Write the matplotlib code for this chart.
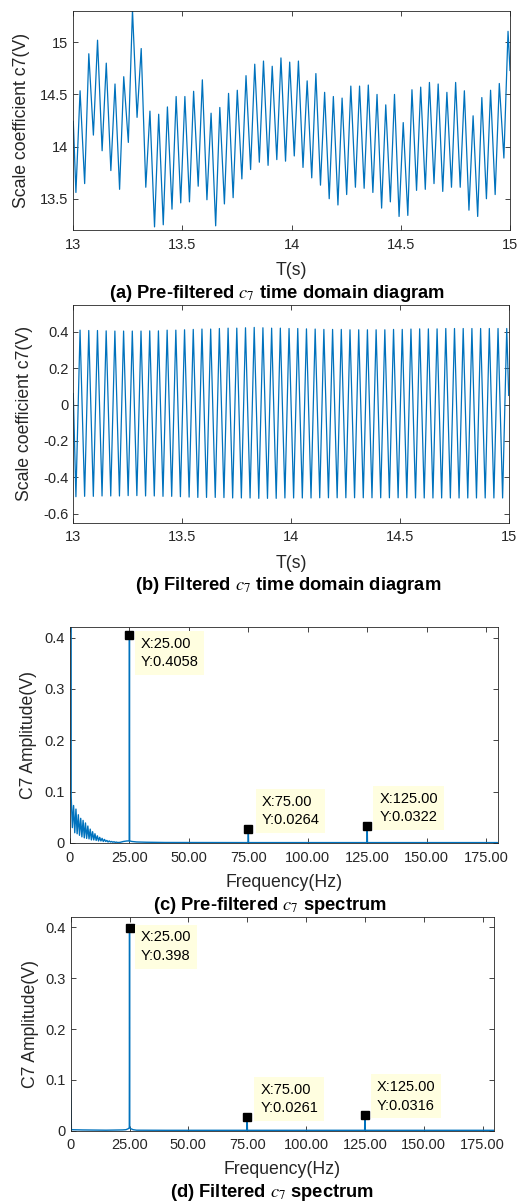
import numpy as np
import matplotlib.pyplot as plt

plt.rcParams['font.family'] = ['Liberation Sans', 'DejaVu Sans']
plt.rcParams['mathtext.fontset'] = 'stix'
plt.rcParams['axes.unicode_minus'] = False

W, H = 527, 1202
BLUE = '#0072BD'
INK = '#262626'
TIP_BG = '#FFFEE0'

# ---- (a) pre-filtered c7: one trough + one peak per 25 Hz cycle
a_troughs = [13.56, 13.645, 14.11, 13.96, 13.77, 13.59, 14.04, 14.28, 13.61, 13.23,
             13.25, 13.40, 13.46, 13.47, 13.62, 13.49, 13.24, 13.45, 13.51, 13.69,
             13.78, 13.85, 13.82, 13.875, 13.86, 13.91, 13.80, 13.70, 13.63, 13.50,
             13.44, 13.54, 13.61, 13.60, 13.56, 13.41, 13.47, 13.33, 13.34, 13.58,
             13.59, 13.645, 13.57, 13.61, 13.61, 13.39, 13.33, 13.50, 13.54, 13.89]
a_peaks = [14.535, 14.89, 15.02, 14.80, 14.60, 14.67, 15.31, 14.94, 14.34, 14.31,
           14.38, 14.48, 14.48, 14.53, 14.64, 14.32, 14.375, 14.51, 14.54, 14.68,
           14.79, 14.82, 14.77, 14.85, 14.81, 14.82, 14.63, 14.70, 14.52, 14.48,
           14.465, 14.58, 14.58, 14.59, 14.50, 14.40, 14.50, 14.23, 14.545, 14.57,
           14.615, 14.60, 14.52, 14.615, 14.535, 14.295, 14.47, 14.54, 14.605, 15.105]
a_start, a_end = 14.24, 14.73

# ---- (b) filtered c7
b_troughs = [-0.507, -0.505, -0.505, -0.503, -0.503, -0.503, -0.501, -0.501, -0.503, -0.503,
             -0.505, -0.505, -0.507, -0.509, -0.511, -0.511, -0.511, -0.512, -0.514, -0.514,
             -0.514, -0.516, -0.516, -0.516, -0.514, -0.514, -0.514, -0.514, -0.513, -0.513,
             -0.513, -0.513, -0.513, -0.513, -0.513, -0.513, -0.513, -0.513, -0.513, -0.514,
             -0.514, -0.514, -0.514, -0.514, -0.514, -0.514, -0.514, -0.514, -0.514, -0.514]
b_peaks = [0.409, 0.407, 0.407, 0.405, 0.404, 0.404, 0.404, 0.404, 0.405, 0.405,
           0.409, 0.409, 0.411, 0.413, 0.415, 0.415, 0.418, 0.420, 0.420, 0.422,
           0.424, 0.422, 0.420, 0.420, 0.418, 0.418, 0.416, 0.415, 0.413, 0.413,
           0.413, 0.411, 0.411, 0.411, 0.411, 0.411, 0.413, 0.413, 0.415, 0.416,
           0.416, 0.416, 0.418, 0.418, 0.418, 0.418, 0.418, 0.418, 0.418, 0.418]
b_start, b_end = 0.06, 0.05

t_first_trough = 13.012   # s
t_rise = 0.019            # trough -> peak
cycle = 0.04              # 25 Hz

# ---- (c) pre-filtered spectrum
c_dc = 14.05
c_low = [0.090, 0.030, 0.073, 0.020, 0.066, 0.018, 0.055, 0.015, 0.048, 0.012,
         0.044, 0.010, 0.039, 0.009, 0.033, 0.008, 0.027, 0.006, 0.022, 0.006,
         0.018, 0.005, 0.014, 0.004, 0.011, 0.004, 0.009, 0.003, 0.007, 0.003,
         0.005, 0.002, 0.004, 0.002, 0.003, 0.0015, 0.0025, 0.0012, 0.0018, 0.001]  # 0.5 Hz bins
c_tail_f = [21, 22.5, 24, 24.9, 25, 25.1, 26, 28, 32, 40, 74.9, 75, 75.1, 124.9, 125, 125.1, 180]
c_tail_a = [0.0012, 0.003, 0.004, 0.004, 0.4058, 0.004, 0.003, 0.002, 0.0015, 0.001,
            0.0008, 0.0264, 0.0008, 0.0008, 0.0322, 0.0008, 0.0008]
c_tip_f = [25, 75, 125]
c_tip_a = [0.4058, 0.0264, 0.0322]

# ---- (d) filtered spectrum
d_f = [0, 0.3, 5, 15, 22, 23.5, 24.5, 24.9, 25, 25.1, 25.5, 26.5, 28, 40,
       74.9, 75, 75.1, 124.9, 125, 125.1, 180]
d_a = [0.095, 0.002, 0.0015, 0.001, 0.0015, 0.002, 0.004, 0.006, 0.398, 0.006, 0.004,
       0.002, 0.001, 0.0008, 0.0008, 0.0261, 0.0008, 0.0008, 0.0316, 0.0008, 0.0008]
d_tip_f = [25, 75, 125]
d_tip_a = [0.398, 0.0261, 0.0316]

freq_ticks = [0, 25, 50, 75, 100, 125, 150, 175]
freq_labels = ['0', '25.00', '50.00', '75.00', '100.00', '125.00', '150.00', '175.00']


def zigzag(troughs, peaks, start, end):
    t, v = [13.0], [start]
    for k, (lo, hi) in enumerate(zip(troughs, peaks)):
        t0 = t_first_trough + k * cycle
        t += [t0, t0 + t_rise]
        v += [lo, hi]
    t.append(15.0)
    v.append(end)
    return t, v


fig = plt.figure(figsize=(W / 100, H / 100), dpi=100)


def make_axes(box, xlabel, ylabel, xlab_y, ylab_x):
    l, t, r, b = box
    ax = fig.add_axes([l / W, 1 - b / H, (r - l) / W, (b - t) / H])
    for s in ax.spines.values():
        s.set_color(INK)
        s.set_linewidth(0.6)
    ax.tick_params(direction='in', top=True, right=True, length=3.4, width=0.6,
                   colors=INK, labelsize=10.5, pad=3.6)
    ax.tick_params(axis='x', pad=5.5)
    ax.set_xlabel(xlabel, fontsize=12.7, color=INK, va='center')
    ax.xaxis.set_label_coords(0.5, (b - xlab_y) / (b - t))
    ax.set_ylabel(ylabel, fontsize=12.7, color=INK, va='center')
    ax.yaxis.set_label_coords((ylab_x - l) / (r - l), 0.5)
    return ax


def caption(text, x, y):
    fig.text(x / W, 1 - y / H, text, ha='center', va='center',
             fontsize=13.2, fontweight='bold', color='black')


def datatips(ax, fs, amps, offsets):
    ax.plot(fs, amps, 's', color='black', ms=5.5, zorder=5)
    for f, a, (dx, dy, va) in zip(fs, amps, offsets):
        ax.annotate(f"X:{f:.2f}\nY:{a:g}", xy=(f, a), xytext=(dx, dy),
                    textcoords='offset pixels', ha='left', va=va, fontsize=10.5,
                    linespacing=1.42, color='black', zorder=6,
                    bbox=dict(boxstyle='square,pad=0.4', fc=TIP_BG, ec='none'))


# (a)
ax = make_axes((73.3, 11, 510, 230), 'T(s)', 'Scale coefficient c7(V)', 270, 21.7)
t, v = zigzag(a_troughs, a_peaks, a_start, a_end)
ax.plot(t, v, color=BLUE, lw=0.9)
ax.set_xlim(13, 15)
ax.set_ylim(13.2, 15.3)
ax.set_xticks([13, 13.5, 14, 14.5, 15], ['13', '13.5', '14', '14.5', '15'])
ax.set_yticks([13.5, 14, 14.5, 15], ['13.5', '14', '14.5', '15'])
caption(r'(a) Pre-filtered $c_7$ time domain diagram', 277, 293)

# (b)
ax = make_axes((73.3, 304.5, 508.7, 522.7), 'T(s)', 'Scale coefficient c7(V)', 563, 25)
t, v = zigzag(b_troughs, b_peaks, b_start, b_end)
ax.plot(t, v, color=BLUE, lw=0.9)
ax.set_xlim(13, 15)
ax.set_ylim(-0.65, 0.55)
ax.set_xticks([13, 13.5, 14, 14.5, 15], ['13', '13.5', '14', '14.5', '15'])
ax.set_yticks([-0.6, -0.4, -0.2, 0, 0.2, 0.4], ['-0.6', '-0.4', '-0.2', '0', '0.2', '0.4'])
caption(r'(b) Filtered $c_7$ time domain diagram', 288, 585)

# (c)
ax = make_axes((70, 627.3, 498, 843), 'Frequency(Hz)', 'C7 Amplitude(V)', 882.7, 28.3)
c_f = [0] + list(np.arange(1, len(c_low) + 1) * 0.5) + c_tail_f
c_a = [c_dc] + c_low + c_tail_a
ax.plot(c_f, c_a, color=BLUE, lw=1.0, clip_on=True)
ax.set_xlim(0, 180)
ax.set_ylim(0, 0.42)
ax.set_xticks(freq_ticks, freq_labels)
ax.set_yticks([0, 0.1, 0.2, 0.3, 0.4], ['0', '0.1', '0.2', '0.3', '0.4'])
datatips(ax, c_tip_f, c_tip_a, [(11, -2, 'top'), (13, 2, 'bottom'), (12, 2, 'bottom')])
caption(r'(c) Pre-filtered $c_7$ spectrum', 270, 905)

# (d)
ax = make_axes((70.7, 917.3, 494.3, 1130.7), 'Frequency(Hz)', 'C7 Amplitude(V)', 1169, 30.7)
ax.plot(d_f, d_a, color=BLUE, lw=1.0)
ax.set_xlim(0, 180)
ax.set_ylim(0, 0.42)
ax.set_xticks(freq_ticks, freq_labels)
ax.set_yticks([0, 0.1, 0.2, 0.3, 0.4], ['0', '0.1', '0.2', '0.3', '0.4'])
datatips(ax, d_tip_f, d_tip_a, [(11, -2, 'top'), (13, 2, 'bottom'), (12, 2, 'bottom')])
caption(r'(d) Filtered $c_7$ spectrum', 272, 1192.5)

fig.savefig('out.png', dpi=100)
